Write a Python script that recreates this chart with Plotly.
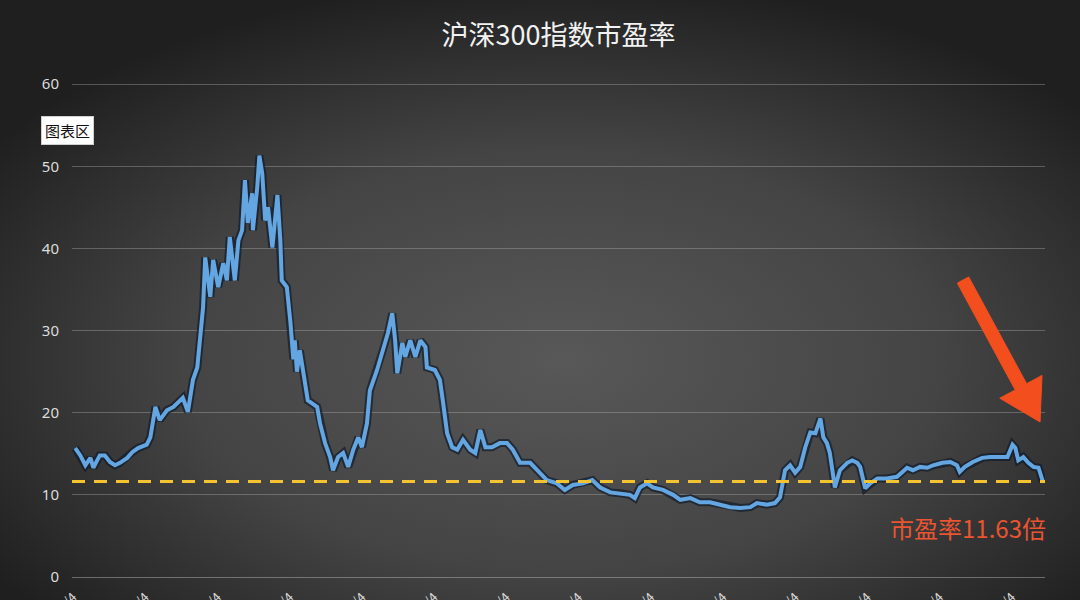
import base64
import plotly.graph_objects as go

# ---- data ----
years = [
    2005.03, 2005.10, 2005.17, 2005.24, 2005.28, 2005.37, 2005.44, 2005.51, 2005.58, 2005.65,
    2005.75, 2005.82, 2005.90, 2006.02, 2006.07, 2006.14, 2006.20, 2006.30, 2006.39, 2006.45,
    2006.52, 2006.59, 2006.66, 2006.72, 2006.76, 2006.80, 2006.83, 2006.90, 2006.94, 2007.01,
    2007.08, 2007.13, 2007.17, 2007.24, 2007.29, 2007.34, 2007.38, 2007.42, 2007.48, 2007.49,
    2007.55, 2007.58, 2007.62, 2007.66, 2007.70, 2007.76, 2007.83, 2007.87, 2007.89, 2007.96,
    2008.01, 2008.05, 2008.07, 2008.10, 2008.14, 2008.19, 2008.25, 2008.38, 2008.42, 2008.49,
    2008.56, 2008.60, 2008.67, 2008.74, 2008.81, 2008.88, 2008.95, 2009.00, 2009.07, 2009.11,
    2009.21, 2009.29, 2009.36, 2009.42, 2009.46, 2009.49, 2009.56, 2009.60, 2009.67, 2009.74,
    2009.81, 2009.88, 2009.90, 2010.01, 2010.08, 2010.12, 2010.18, 2010.25, 2010.32, 2010.40,
    2010.50, 2010.57, 2010.64, 2010.71, 2010.80, 2010.91, 2011.01, 2011.09, 2011.19, 2011.33,
    2011.43, 2011.56, 2011.70, 2011.81, 2011.92, 2012.06, 2012.19, 2012.30, 2012.44, 2012.58,
    2012.71, 2012.78, 2012.85, 2012.95, 2013.03, 2013.17, 2013.31, 2013.41, 2013.55, 2013.68,
    2013.82, 2013.96, 2014.10, 2014.24, 2014.38, 2014.47, 2014.61, 2014.72, 2014.79, 2014.86,
    2014.93, 2015.00, 2015.07, 2015.14, 2015.21, 2015.28, 2015.35, 2015.39, 2015.44, 2015.48,
    2015.55, 2015.62, 2015.72, 2015.79, 2015.86, 2015.90, 2015.97, 2016.04, 2016.14, 2016.27,
    2016.41, 2016.55, 2016.63, 2016.73, 2016.83, 2016.91, 2017.04, 2017.15, 2017.24, 2017.28,
    2017.35, 2017.46, 2017.59, 2017.70, 2017.80, 2017.87, 2017.94, 2018.01, 2018.05, 2018.09,
    2018.16, 2018.23, 2018.30, 2018.37, 2018.43,
]
pe_values = [
    15.7, 14.8, 13.6, 14.5, 13.3, 14.8, 14.8, 14.0, 13.6, 13.9,
    14.5, 15.2, 15.7, 16.1, 17.0, 20.7, 19.1, 20.3, 20.7, 21.2,
    21.8, 20.1, 24.0, 25.5, 29.7, 32.8, 38.9, 34.1, 38.6, 35.3,
    38.2, 36.1, 41.4, 36.1, 41.0, 42.2, 48.3, 43.1, 46.7, 42.2,
    47.4, 51.3, 49.1, 43.4, 45.0, 40.1, 46.5, 41.0, 36.1, 35.3,
    31.0, 26.5, 28.8, 25.0, 27.6, 24.8, 21.5, 20.7, 18.7, 16.3,
    14.6, 13.0, 14.6, 15.1, 13.4, 15.5, 17.0, 15.8, 18.7, 22.7,
    25.2, 27.6, 29.7, 32.1, 28.8, 24.8, 28.5, 26.8, 28.8, 26.8,
    28.8, 28.0, 25.5, 25.2, 24.0, 21.5, 17.5, 15.8, 15.5, 16.7,
    15.5, 15.1, 17.9, 15.8, 15.8, 16.3, 16.3, 15.5, 13.9, 13.9,
    13.0, 11.8, 11.4, 10.6, 11.2, 11.4, 11.8, 10.9, 10.3, 10.2,
    10.0, 9.6, 10.9, 11.4, 10.9, 10.6, 10.0, 9.4, 9.6, 9.1,
    9.1, 8.8, 8.5, 8.4, 8.5, 9.0, 8.8, 9.0, 9.7, 13.0,
    13.6, 12.7, 13.4, 15.8, 17.6, 17.5, 19.3, 17.0, 16.3, 15.1,
    10.9, 13.0, 13.9, 14.2, 13.9, 13.4, 10.8, 11.4, 12.0, 12.0,
    12.2, 13.3, 13.0, 13.4, 13.3, 13.6, 13.9, 14.0, 13.6, 12.8,
    13.4, 14.0, 14.5, 14.6, 14.6, 14.5, 14.6, 16.1, 15.7, 14.2,
    14.6, 13.9, 13.4, 13.3, 11.63,
]
tick_years = list(range(2005, 2019))
tick_labels = [f"{y}/1/4" for y in tick_years]
y_ticks = [0, 10, 20, 30, 40, 50, 60]
current_pe = 11.63
title_text = "沪深300指数市盈率"
note_text = "市盈率11.63倍"
chart_area_label = "图表区"

W, H = 1080, 600
ML, MR, MT, MB = 72, 35, 80, 23
PW, PH = W - ML - MR, H - MT - MB
Y_MAX = 60.5

# radial gradient background as an SVG image
svg = f'''<svg xmlns="http://www.w3.org/2000/svg" width="{W}" height="{H}" viewBox="0 0 {W} {H}" preserveAspectRatio="none">
<defs><radialGradient id="g" cx="52%" cy="60%" r="64%">
<stop offset="0%" stop-color="#585858"/><stop offset="55%" stop-color="#444444"/><stop offset="100%" stop-color="#1f1f1f"/>
</radialGradient></defs><rect width="{W}" height="{H}" fill="url(#g)"/></svg>'''
bg_uri = "data:image/svg+xml;base64," + base64.b64encode(svg.encode()).decode()

fig = go.Figure()
# shadow under the line
fig.add_trace(go.Scatter(x=years, y=pe_values, mode="lines",
                         line=dict(color="rgba(15,25,40,0.65)", width=8),
                         hoverinfo="skip", showlegend=False))
fig.add_trace(go.Scatter(x=years, y=pe_values, mode="lines",
                         line=dict(color="#64a6e2", width=4),
                         name="市盈率", showlegend=False))

# dashed current-level line
fig.add_shape(type="line", xref="paper", x0=0, x1=1, yref="y", y0=current_pe, y1=current_pe,
              line=dict(color="#f3c430", width=3, dash="13px,9px"), layer="above")

def px2paper(px, py):
    return (px - ML) / PW, (H - MB - py) / PH

arrow_px = [(957.3, 283.1), (968.7, 276.9), (1026.6, 383.7), (1042.0, 375.4),
            (1040.0, 422.0), (999.8, 398.2), (1015.2, 389.9)]
pts = [px2paper(*p) for p in arrow_px]
path = "M " + " L ".join(f"{x:.4f},{y:.4f}" for x, y in pts) + " Z"
fig.add_shape(type="path", xref="paper", yref="paper", path=path,
              fillcolor="#f24e1e", line=dict(color="#f24e1e", width=1), layer="above")

fig.add_layout_image(dict(source=bg_uri, xref="paper", yref="paper",
                          x=-ML / PW, y=(H - MB) / PH, sizex=W / PW, sizey=H / PH,
                          xanchor="left", yanchor="top", sizing="stretch", layer="below"))

nx, ny = px2paper(968, 527)
fig.add_annotation(text=note_text, xref="paper", yref="paper", x=nx, y=ny,
                   showarrow=False, font=dict(family="Noto Sans CJK SC", size=24, color="#ea5430"),
                   xanchor="center", yanchor="middle")
lx, ly = px2paper(67, 130)
fig.add_annotation(text=chart_area_label, xref="paper", yref="paper", x=lx, y=ly,
                   showarrow=False, font=dict(family="Noto Sans CJK SC", size=15, color="#111111"),
                   bgcolor="#ffffff", bordercolor="#d0d0d0", borderwidth=1, borderpad=3,
                   xanchor="center", yanchor="middle")

fig.update_layout(
    width=W, height=H,
    margin=dict(l=ML, r=MR, t=MT, b=MB, autoexpand=False),
    paper_bgcolor="#333333", plot_bgcolor="rgba(0,0,0,0)",
    title=dict(text=title_text, x=0.5, xref="paper", xanchor="center",
               y=1 - 36 / H, yref="container", yanchor="middle",
               font=dict(family="Noto Sans CJK SC", size=27, color="#f2f2f2")),
    xaxis=dict(range=[2004.985, 2018.46], tickmode="array", tickvals=tick_years,
               ticktext=tick_labels, tickangle=-45, automargin=False, showgrid=False,
               zeroline=False, showline=False, ticklabelstandoff=9,
               tickfont=dict(family="Noto Sans CJK SC", size=13, color="#d9d9d9")),
    yaxis=dict(range=[0, Y_MAX], tickmode="array", tickvals=y_ticks, automargin=False,
               showgrid=True, gridcolor="rgba(190,190,190,0.35)", gridwidth=1,
               zeroline=True, zerolinecolor="rgba(190,190,190,0.45)", zerolinewidth=1,
               showline=False, ticklabelstandoff=12,
               tickfont=dict(family="Noto Sans", size=15, color="#dcdcdc")),
    showlegend=False,
)

fig.write_html("out.html", config={"displayModeBar": False},
               post_script="document.body.style.margin='0';document.body.style.overflow='hidden';document.body.style.background='#333';")
